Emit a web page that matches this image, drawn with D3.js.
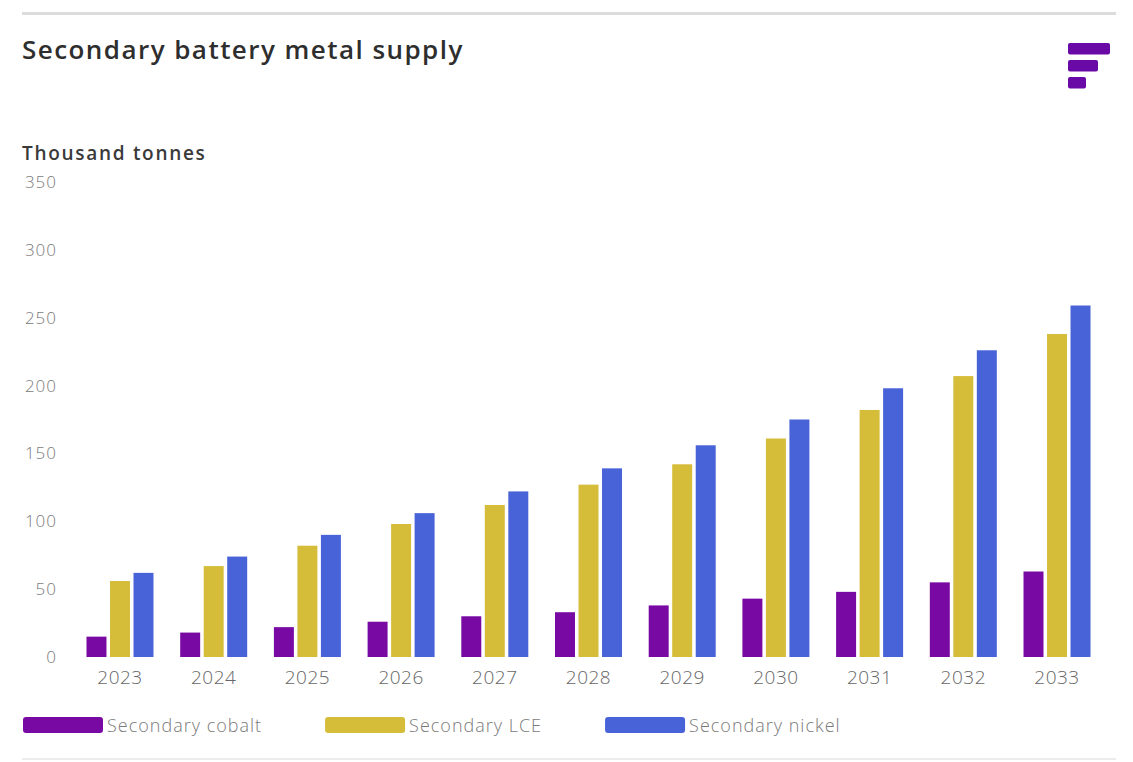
<!DOCTYPE html>
<html>
<head>
<meta charset="utf-8">
<script src="https://cdn.jsdelivr.net/npm/d3@7"></script>
<style>
  html, body { margin: 0; padding: 0; background: #ffffff; }
  svg { display: block; }
  text { font-family: "Open Sans", "Lato", sans-serif; }
</style>
</head>
<body>
<div id="chart"></div>
<script>
// Secondary battery metal supply, thousand tonnes
const years = ["2023", "2024", "2025", "2026", "2027", "2028", "2029", "2030", "2031", "2032", "2033"];
const seriesNames = ["Secondary cobalt", "Secondary LCE", "Secondary nickel"];
const cobalt = [15, 18, 22, 26, 30, 33, 38, 43, 48, 55, 63];
const lce    = [56, 67, 82, 98, 112, 127, 142, 161, 182, 207, 238];
const nickel = [62, 74, 90, 106, 122, 139, 156, 175, 198, 226, 259];
const yTicks = [0, 50, 100, 150, 200, 250, 300, 350];
const colors = ["#780aa3", "#d5bd3a", "#4862d8"];

const W = 1133, H = 762;
const svg = d3.select("#chart").append("svg").attr("width", W).attr("height", H);

// frame rules
svg.append("rect").attr("x", 22).attr("y", 12).attr("width", 1094).attr("height", 3).attr("fill", "#dcdcdc");
svg.append("rect").attr("x", 22).attr("y", 758).attr("width", 1094).attr("height", 2).attr("fill", "#ececec");

// title
svg.append("text").attr("x", 22).attr("y", 59)
  .attr("font-size", 26).attr("font-weight", 600).attr("letter-spacing", 1.45).attr("fill", "#2e2e2e")
  .text("Secondary battery metal supply");

// logo mark
const logo = svg.append("g").attr("fill", "#6a0aa6");
[[43, 42], [60, 30], [77, 18]].forEach(([y, w]) => {
  logo.append("rect").attr("x", 1068).attr("y", y).attr("width", w).attr("height", 11.5).attr("rx", 2);
});

// unit label
svg.append("text").attr("x", 22).attr("y", 160)
  .attr("font-size", 19).attr("font-weight", 600).attr("letter-spacing", 1.7).attr("fill", "#3a3a3a")
  .text("Thousand tonnes");

// scales
const y = d3.scaleLinear().domain([0, 350]).range([657, 182]);
const x0 = d3.scaleBand().domain(years).range([73, 1104]).paddingInner(0.285).paddingOuter(0.144);
const x1 = d3.scaleBand().domain(seriesNames).range([0, x0.bandwidth()]).paddingInner(0.15);

// y axis labels
const yAxis = d3.axisLeft(y).tickValues(yTicks).tickSize(0).tickPadding(0);
const gy = svg.append("g").attr("transform", "translate(57,0)").call(yAxis);
gy.select(".domain").remove();
gy.selectAll("text").attr("font-size", 17).attr("font-weight", 300).attr("letter-spacing", 1)
  .attr("fill", "#7a7a7a").attr("font-family", "'Open Sans', sans-serif");

// x axis labels
const xAxis = d3.axisBottom(x0).tickSize(0).tickPadding(0);
const gx = svg.append("g").attr("transform", "translate(0,670)").call(xAxis);
gx.select(".domain").remove();
gx.selectAll("text").attr("font-size", 19).attr("font-weight", 300).attr("letter-spacing", 0.5)
  .attr("fill", "#666").attr("font-family", "'Open Sans', sans-serif");

// bars
const seriesValues = [cobalt, lce, nickel];
const groups = svg.append("g").selectAll("g").data(years).join("g")
  .attr("transform", d => `translate(${x0(d)},0)`);
groups.selectAll("rect")
  .data((d, i) => seriesNames.map((s, k) => ({ s, k, v: seriesValues[k][i] })))
  .join("rect")
  .attr("x", d => x1(d.s))
  .attr("width", x1.bandwidth())
  .attr("y", d => y(d.v))
  .attr("height", d => y(0) - y(d.v))
  .attr("fill", d => colors[d.k]);

// legend
const legend = svg.append("g").attr("transform", "translate(23,717)");
let lx = 0;
seriesNames.forEach((name, k) => {
  const g = legend.append("g").attr("transform", `translate(${lx},0)`);
  g.append("rect").attr("width", 80).attr("height", 16).attr("rx", 3).attr("fill", colors[k]);
  const t = g.append("text").attr("x", 84).attr("y", 15)
    .attr("font-size", 18).attr("font-weight", 300).attr("letter-spacing", 1)
    .attr("fill", "#7a7a7a").text(name);
  lx += 84 + t.node().getComputedTextLength() + 63;
});
</script>
</body>
</html>
